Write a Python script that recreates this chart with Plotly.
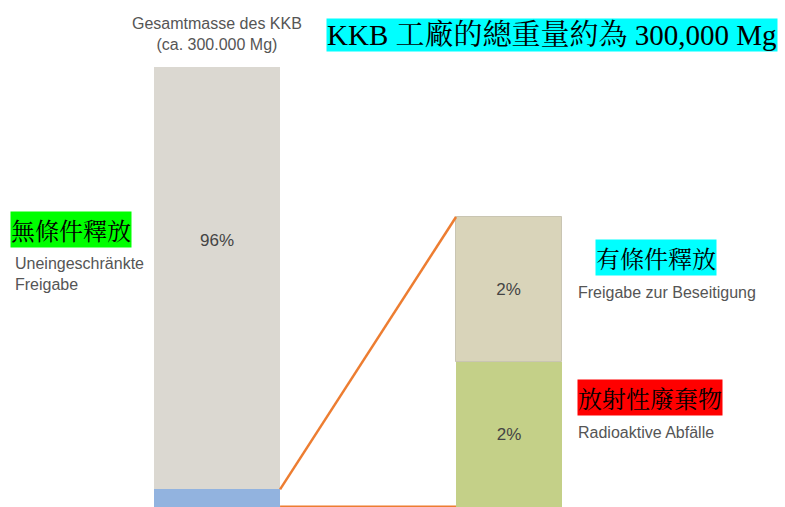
import plotly.graph_objects as go

# ---- data ----
left_segments = ["Radioaktive + Beseitigung", "Uneingeschränkte Freigabe"]
left_values = [4, 96]          # percent of total mass
right_segments = ["Radioaktive Abfälle", "Freigabe zur Beseitigung"]
right_values = [2, 2]          # percent of total mass
bar_positions = [0, 1]

W, H = 785, 507
def px(x):
    return x / W
def py(y):
    return 1 - y / H

plot_top_px = 67
plot_h = H - plot_top_px
right_top_px = 217
R = sum(right_values) * plot_h / (H - right_top_px)   # y2 range top

wl, wr = 0.432, 0.363
gray = "#DBD8D1"
blue = "#92B3DF"
tan = "#D9D4BA"
green = "#C4D088"
orange = "#ED7D31"
txtgray = "#555555"
sans_n = "Liberation Sans Narrow, Arial Narrow, Liberation Sans, Arial, sans-serif"
cjk = "Noto Serif CJK TC, Noto Sans CJK TC, serif"
fs = 16

fig = go.Figure()
# left stacked bar
fig.add_trace(go.Bar(x=[bar_positions[0]], y=[left_values[0]], base=[0], width=[wl],
                     marker=dict(color=blue, line=dict(width=0)), yaxis="y", hoverinfo="skip"))
fig.add_trace(go.Bar(x=[bar_positions[0]], y=[left_values[1]], base=[left_values[0]], width=[wl],
                     marker=dict(color=gray, line=dict(width=0)), yaxis="y", hoverinfo="skip"))
# right stacked bar (zoom of the 4%)
fig.add_trace(go.Bar(x=[bar_positions[1]], y=[right_values[0]], base=[0], width=[wr],
                     marker=dict(color=green, line=dict(width=0)), yaxis="y2",
                     text=[f"{right_values[0]}%"], textposition="inside", insidetextanchor="middle",
                     textfont=dict(family=sans_n, size=fs + 1, color="#444444"), hoverinfo="skip"))
fig.add_trace(go.Bar(x=[bar_positions[1]], y=[right_values[1]], base=[right_values[0]], width=[wr],
                     marker=dict(color=tan, line=dict(width=1, color="#C9C5B2")), yaxis="y2",
                     text=[f"{right_values[1]}%"], textposition="inside", insidetextanchor="middle",
                     textfont=dict(family=sans_n, size=fs + 1, color="#444444"), hoverinfo="skip"))

# connector lines
xl = bar_positions[0] + wl / 2
xr = bar_positions[1] - wr / 2
fig.add_trace(go.Scatter(x=[xl, xr], y=[left_values[0] * R / 100, sum(right_values)],
                         mode="lines", line=dict(color=orange, width=2.5), yaxis="y2", hoverinfo="skip"))
fig.add_trace(go.Scatter(x=[xl, xr], y=[0, 0],
                         mode="lines", line=dict(color=orange, width=3), yaxis="y2", hoverinfo="skip"))

x0 = -217 / 292
fig.update_layout(
    width=W, height=H, margin=dict(l=0, r=0, t=0, b=0),
    paper_bgcolor="white", plot_bgcolor="white", showlegend=False,
    barmode="overlay", bargap=0,
    xaxis=dict(range=[x0, x0 + W / 292], visible=False, fixedrange=True),
    yaxis=dict(range=[0, 100], domain=[0, plot_h / H], visible=False),
    yaxis2=dict(range=[0, R], overlaying="y", visible=False),
)

ann = [
    dict(x=px(217), y=py(34), text="Gesamtmasse des KKB<br>(ca. 300.000 Mg)",
         font=dict(family=sans_n, size=fs, color=txtgray), xanchor="center", yanchor="middle"),
    dict(x=px(326), y=py(35), text="KKB 工廠的總重量約為 300,000 Mg", bgcolor="#00FFFF", borderpad=0,
         font=dict(family="Liberation Serif, " + cjk, size=29, color="black"), xanchor="left", yanchor="middle"),
    dict(x=px(217), y=py(240), text=f"{left_values[1]}%",
         font=dict(family=sans_n, size=fs + 1, color="#444444"), xanchor="center", yanchor="middle"),
    dict(x=px(10), y=py(229), text="無條件釋放", bgcolor="#00FF00", borderpad=0,
         font=dict(family=cjk, size=24, color="black"), xanchor="left", yanchor="middle"),
    dict(x=px(13), y=py(274), text="Uneingeschränkte<br>Freigabe", align="left",
         font=dict(family=sans_n, size=fs, color=txtgray), xanchor="left", yanchor="middle"),
    dict(x=px(595), y=py(257), text="有條件釋放", bgcolor="#00FFFF", borderpad=0,
         font=dict(family=cjk, size=24, color="black"), xanchor="left", yanchor="middle"),
    dict(x=px(576), y=py(292), text="Freigabe zur Beseitigung", align="left",
         font=dict(family=sans_n, size=fs, color=txtgray), xanchor="left", yanchor="middle"),
    dict(x=px(577), y=py(397), text="放射性廢棄物", bgcolor="#FF0000", borderpad=0,
         font=dict(family=cjk, size=24, color="black"), xanchor="left", yanchor="middle"),
    dict(x=px(576), y=py(432), text="Radioaktive Abfälle", align="left",
         font=dict(family=sans_n, size=fs, color=txtgray), xanchor="left", yanchor="middle"),
]
for a in ann:
    a.update(xref="paper", yref="paper", showarrow=False)
fig.update_layout(annotations=ann)

fig.write_html("out.html", config={"displayModeBar": False},
               post_script="document.body.style.margin='0';document.body.style.overflow='hidden';")
